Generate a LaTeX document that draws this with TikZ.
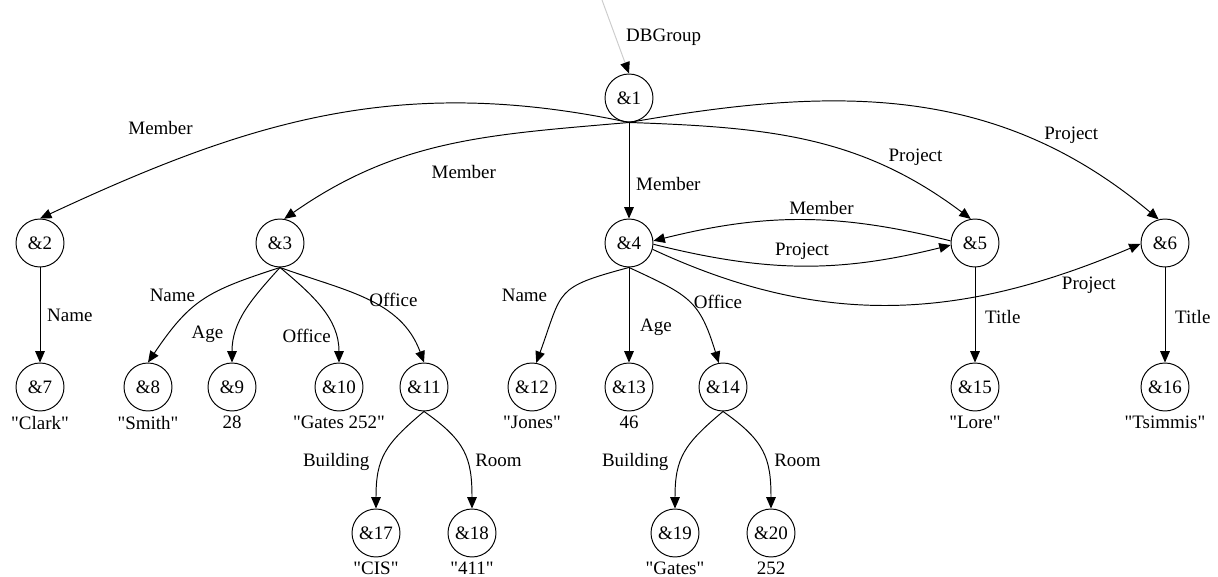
\documentclass[tikz,border=0pt]{standalone}
\usepackage{fontspec}
\setmainfont{Liberation Serif}
\newfontfamily\graphfont{Liberation Serif}
\usetikzlibrary{arrows.meta}

\begin{document}
\begin{tikzpicture}[->,>={Triangle[length=6.5pt,width=5.5pt]},x=0.02cm,y=0.02cm,
  line width=0.55pt,font=\graphfont\fontsize{10.8}{13}\selectfont,label distance=0.08cm,
  every label/.style={inner sep=0pt},
  main node/.style={circle,draw,minimum size=0.96cm,inner sep=0pt}]
  \useasboundingbox (0,0) rectangle (1218,-577);
  \coordinate (0) at (602,0);
  \node[main node] (1) at (629,-98) {\&1};
  \node[main node] (2) at (40,-243) {\&2};
  \node[main node] (3) at (280,-243) {\&3};
  \node[main node] (4) at (629,-243) {\&4};
  \node[main node] (5) at (975,-243) {\&5};
  \node[main node] (6) at (1165,-243) {\&6};
  \node[main node,label=below:{"Clark"}] (7) at (40,-387) {\&7};
  \node[main node,label=below:{"Smith"}] (8) at (148,-387) {\&8};
  \node[main node,label=below:{28}] (9) at (232,-387) {\&9};
  \node[main node,label=below:{"Gates 252"}] (10) at (339,-387) {\&10};
  \node[main node] (11) at (424,-387) {\&11};
  \node[main node,label=below:{"Jones"}] (12) at (532,-387) {\&12};
  \node[main node,label=below:{46}] (13) at (629,-387) {\&13};
  \node[main node] (14) at (723,-387) {\&14};
  \node[main node,label=below:{"Lore"}] (15) at (975,-387) {\&15};
  \node[main node,label=below:{"Tsimmis"}] (16) at (1165,-387) {\&16};
  \node[main node,label=below:{"CIS"}] (17) at (376,-533) {\&17};
  \node[main node,label=below:{"411"}] (18) at (472,-533) {\&18};
  \node[main node,label=below:{"Gates"}] (19) at (675,-533) {\&19};
  \node[main node,label=below:{252}] (20) at (771,-533) {\&20};
  \path[every node/.style={inner sep=1pt}]
    (0) edge[gray!40,-{Triangle[length=6.5pt,width=5.5pt,color=black]}]
      node[pos=.5,right=0.17cm,text=black] {DBGroup} (1.north)
    (1.south) edge[out=168,in=25] node[pos=.8,above=0.58cm] {Member} (2.north)
    (1.south) edge[out=185,in=35] node[pos=.45,below=0.42cm] {Member} (3.80)
    (1) edge node[pos=.64,right=0.1cm] {Member} (4)
    (1.south) edge[out=-2,in=143] node[pos=.83,above=0.3cm] {Project} (5.100)
    (1.south) edge[out=10,in=140] node[pos=.82,above=0.26cm] {Project} (6.105)
    (5.175) edge[out=166,in=14] node[pos=.43,above=0.06cm] {Member} (4.5)
    (4.-3) edge[out=-14,in=194] node[pos=.5,above=0.08cm] {Project} (5.185)
    (4.-15) edge[out=-25,in=203] node[pos=.9,below=0.21cm] {Project} (6.182)
    (2) edge node[right=0.1cm] {Name} (7)
    (3.south) edge[out=198,in=56,looseness=1.2] node[pos=.55,above left] {Name} (8.north)
    (3.south) edge[out=228,in=90] node[pos=.75,left=0.2cm] {Age} (9.north)
    (3.south) edge[out=-40,in=90] node[pos=.78,left=0.05cm] {Office} (10.north)
    (3.south) edge[out=-20,in=110] node[pos=.5,right=0pt] {Office} (11.north)
    (4.south) edge[out=195,in=70,looseness=1.5] node[pos=.5,left=0.3cm] {Name} (12.80)
    (4) edge node[pos=.625,right=0.18cm] {Age} (13)
    (4.south) edge[out=-25,in=107,looseness=1.3] node[pos=.5,right=0.05cm] {Office} (14.100)
    (5) edge node[pos=.52,right=0.16cm] {Title} (15)
    (6) edge node[pos=.52,right=0.16cm] {Title} (16)
    (11.south) edge[out=220,in=90,looseness=1.2] node[pos=.6,left=0.2cm] {Building} (17.north)
    (11.south) edge[out=-35,in=90,looseness=1.2] node[pos=.6,right=0.12cm] {Room} (18.north)
    (14.south) edge[out=220,in=90,looseness=1.2] node[pos=.6,left=0.2cm] {Building} (19.north)
    (14.south) edge[out=-35,in=90,looseness=1.2] node[pos=.6,right=0.12cm] {Room} (20.north);
\end{tikzpicture}
\end{document}
